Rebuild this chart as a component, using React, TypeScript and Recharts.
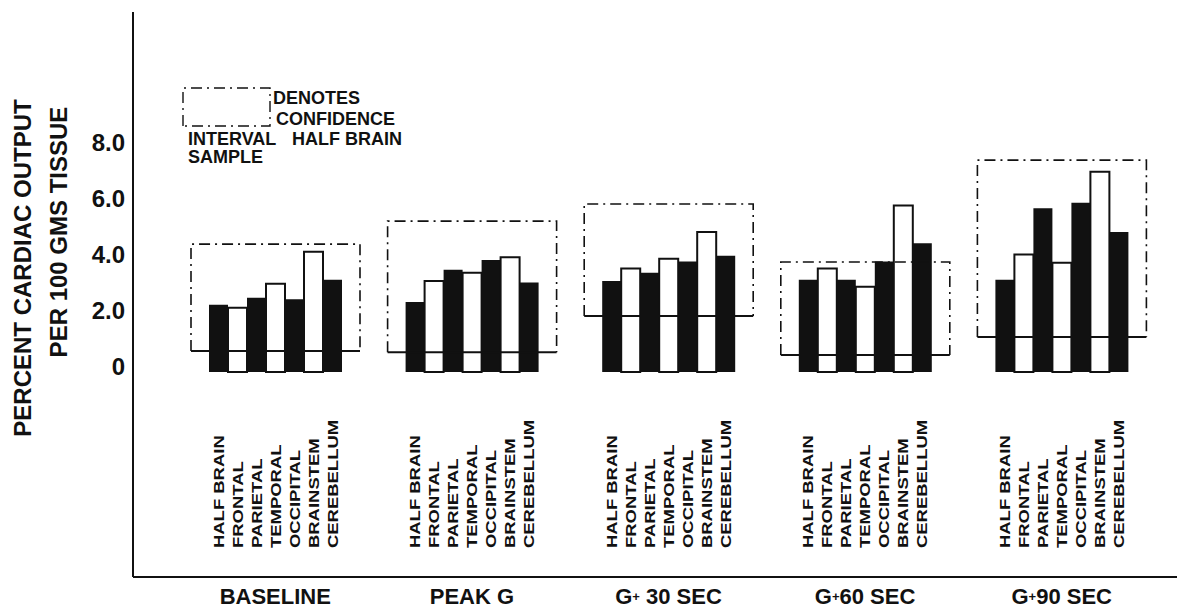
import React from 'react'
import { BarChart, Bar, XAxis, YAxis, LabelList, Customized } from 'recharts'

// groups along the x axis
const groups = ['BASELINE', 'PEAK G', 'G+ 30 SEC', 'G+60 SEC', 'G+90 SEC']

// brain regions, in bar order within a group
const regions = ['HALF BRAIN', 'FRONTAL', 'PARIETAL', 'TEMPORAL', 'OCCIPITAL', 'BRAINSTEM', 'CEREBELLUM']

// percent cardiac output per 100 gms tissue, one array per region (5 groups each)
const halfBrain = [2.4, 2.5, 3.25, 3.3, 3.3]
const frontal = [2.3, 3.25, 3.7, 3.7, 4.2]
const parietal = [2.65, 3.65, 3.55, 3.3, 5.85]
const temporal = [3.15, 3.55, 4.05, 3.05, 3.9]
const occipital = [2.6, 4.0, 3.95, 3.95, 6.05]
const brainstem = [4.3, 4.1, 5.0, 5.95, 7.15]
const cerebellum = [3.3, 3.2, 4.15, 4.6, 5.0]

// confidence interval of the half brain sample
const ciLow = [0.75, 0.71, 2.0, 0.61, 1.25]
const ciHigh = [4.57, 5.39, 6.0, 3.93, 7.57]

const yTicks = [0, 2, 4, 6, 8]

const keys = ['halfBrain', 'frontal', 'parietal', 'temporal', 'occipital', 'brainstem', 'cerebellum']
const series = [halfBrain, frontal, parietal, temporal, occipital, brainstem, cerebellum]

const data = groups.map((g, i) => {
  const row: Record<string, any> = { group: g, ci: [ciLow[i], ciHigh[i]] }
  keys.forEach((k, j) => { row[k] = series[j][i] })
  return row
})

const FONT = '"Liberation Sans", Arial, Helvetica, sans-serif'
const INK = '#111'
const DASH = '11 5 2 5'

function CiBox(props: any) {
  const { x, y, width, height } = props
  if (width == null) return null
  const bottom = y + height
  return (
    <g>
      <path
        d={`M${x},${bottom} V${y} H${x + width} V${bottom}`}
        fill="none"
        stroke={INK}
        strokeWidth={1.6}
        strokeDasharray={DASH}
      />
      <line x1={x} x2={x + width} y1={bottom} y2={bottom} stroke={INK} strokeWidth={2} />
    </g>
  )
}

function RegionLabel(props: any) {
  const { x, y, width, height, text } = props
  const cx = x + width / 2
  const base = y + height
  return (
    <text
      transform={`translate(${cx + 5}, ${base + 176}) rotate(-90) scale(1.32, 1)`}
      fontFamily={FONT}
      fontWeight="bold"
      fontSize={14}
      fill={INK}
      textAnchor="start"
    >
      {text}
    </text>
  )
}

function GroupTick(props: any) {
  const { x, y, payload } = props
  const parts = String(payload.value).split('+')
  return (
    <text x={x} y={y + 19} textAnchor="middle" fontFamily={FONT} fontWeight="bold" fontSize={22} fill={INK}>
      {parts.length > 1 ? (
        <>
          {parts[0]}
          <tspan fontSize={13} dy={-3}>+</tspan>
          <tspan dy={3}>{parts[1]}</tspan>
        </>
      ) : (
        parts[0]
      )}
    </text>
  )
}

function ValueTick(props: any) {
  const { x, y, payload } = props
  const v = payload.value as number
  return (
    <text x={x} y={y + 3} textAnchor="end" fontFamily={FONT} fontWeight="bold" fontSize={24} fill={INK}>
      {v === 0 ? '0' : v.toFixed(1)}
    </text>
  )
}

function Decor() {
  return (
    <g fontFamily={FONT} fontWeight="bold" fill={INK}>
      {/* y axis title */}
      <text transform="translate(31, 268) rotate(-90)" textAnchor="middle" fontSize={24}>
        PERCENT CARDIAC OUTPUT
      </text>
      <text transform="translate(67, 232) rotate(-90)" textAnchor="middle" fontSize={24}>
        PER 100 GMS TISSUE
      </text>
      {/* legend */}
      <path d="M183,126 V88 H270 V126 Z" fill="none" stroke={INK} strokeWidth={1.4} strokeDasharray={DASH} />
      <text x={273} y={104} fontSize={18}>DENOTES</text>
      <text x={276} y={125} fontSize={18}>CONFIDENCE</text>
      <text x={188} y={145} fontSize={18}>INTERVAL</text>
      <text x={292} y={145} fontSize={18}>HALF BRAIN</text>
      <text x={188} y={163} fontSize={18}>SAMPLE</text>
    </g>
  )
}

export default function App() {
  return (
    <div style={{ position: 'absolute', left: 0, top: 0, width: 1183, height: 614, background: '#fff' }}>
      <BarChart
        width={1183}
        height={614}
        data={data}
        margin={{ top: 12, right: 6, left: 0, bottom: 0 }}
        barGap={0}
      >
        <XAxis
          dataKey="group"
          height={37}
          padding={{ left: 44, right: 17 }}
          axisLine={{ stroke: INK, strokeWidth: 2 }}
          tickLine={false}
          tick={<GroupTick />}
          interval={0}
        />
        <XAxis xAxisId="ci" dataKey="group" hide padding={{ left: 44, right: 17 }} />
        <YAxis
          width={133}
          domain={[-7.32, 12.86]}
          allowDataOverflow
          ticks={yTicks}
          axisLine={{ stroke: INK, strokeWidth: 2 }}
          tickLine={false}
          tickSize={0}
          tickMargin={8}
          tick={<ValueTick />}
        />
        {keys.map((k, j) => (
          <Bar
            key={k}
            dataKey={k}
            barSize={19}
            fill={j % 2 === 0 ? INK : '#fff'}
            stroke={INK}
            strokeWidth={j % 2 === 0 ? 0 : 2}
            isAnimationActive={false}
          >
            <LabelList dataKey={k} content={(p: any) => <RegionLabel {...p} text={regions[j]} />} />
          </Bar>
        ))}
        <Bar
          xAxisId="ci"
          dataKey="ci"
          barSize={169}
          fill="none"
          shape={<CiBox />}
          isAnimationActive={false}
        />
        <Customized component={Decor} />
      </BarChart>
    </div>
  )
}
